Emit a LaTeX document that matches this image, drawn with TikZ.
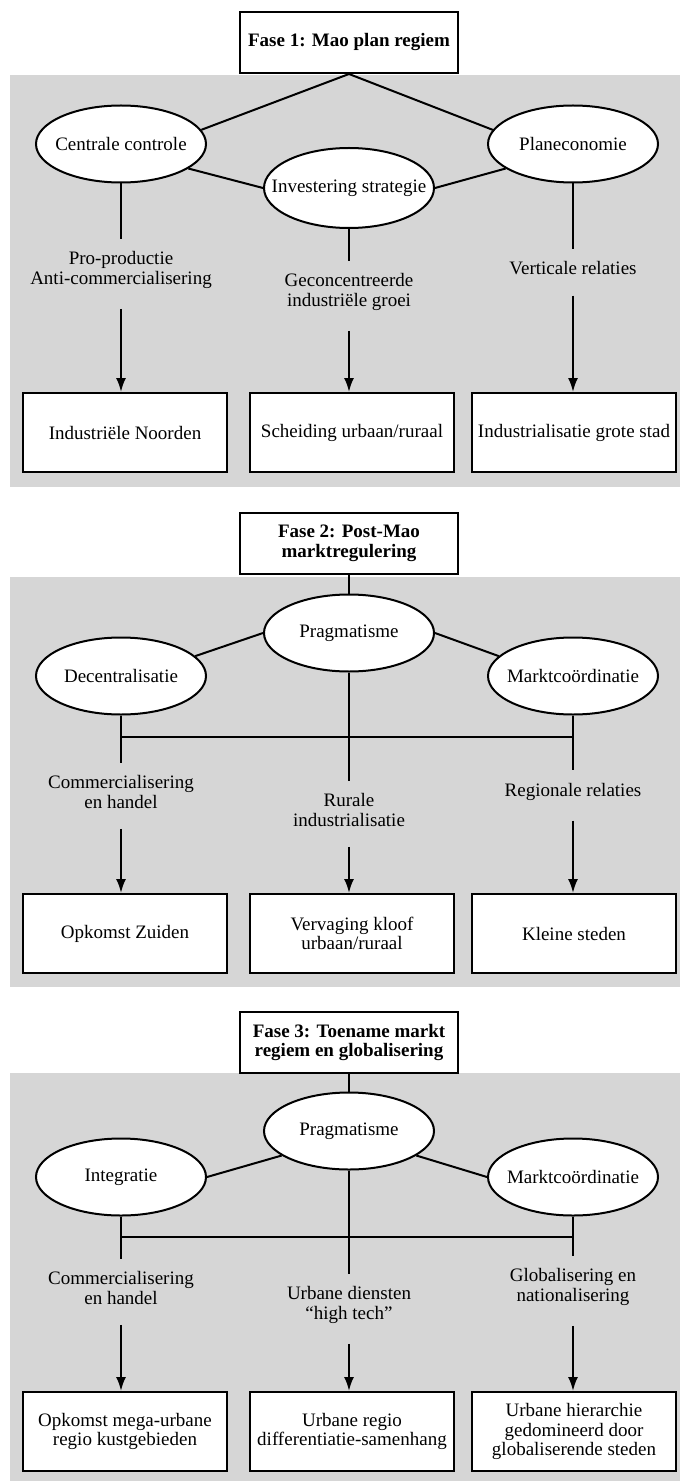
\documentclass[tikz,border=0pt]{standalone}
\usepackage{fontspec}
\setmainfont{Liberation Serif}
\usetikzlibrary{shapes.geometric,arrows.meta}

\definecolor{panelgray}{RGB}{214,214,214}

\begin{document}
\begin{tikzpicture}[
            x=0.5pt, y=-0.5pt,
            every node/.style={font=\fontsize{9.5}{9.8}\selectfont},
            phase/.style={rectangle, draw=black, fill=white, line width=1pt, minimum width=109pt, minimum height=30.5pt, align=center, inner sep=2pt, font=\fontsize{9.5}{9.8}\selectfont\bfseries},
            concept/.style={ellipse, draw=black, fill=white, line width=1pt, minimum width=85pt, minimum height=38.5pt, inner xsep=-12pt, inner ysep=0pt},
            outcome/.style={rectangle, draw=black, fill=white, line width=1pt, minimum width=102pt, minimum height=39.5pt, align=center, inner sep=2pt},
            note/.style={align=center, inner xsep=0pt, inner ysep=6pt},
            link/.style={line width=1pt},
            flow/.style={line width=1pt, -{Latex[length=7pt,width=5pt]}, shorten <=4pt},
            panel/.style={fill=panelgray, draw=none},
        ]
            \useasboundingbox (0,0) rectangle (680,1481);
            %% panels
            \fill[panel] (10,75) rectangle (680,487);
            \fill[panel] (10,577) rectangle (680,987);
            \fill[panel] (10,1073) rectangle (680,1481);

            %% fase 1
            \node[phase] at (349, 42.5) (fase1) {Fase 1: Mao plan regiem};
            \node[concept] at (121, 144) (centraal) {Centrale controle};
            \node[concept, minimum height=40pt] at (349, 188) (investering) {Investering strategie};
            \node[concept] at (573, 144) (planeco) {Planeconomie};
            \node[note] at (121, 270) (proprod) {Pro-productie\\Anti-commercialisering};
            \node[note] at (349, 292) (geconc) {Geconcentreerde\\industriële groei};
            \node[note] at (573, 268.5) (verticaal) {Verticale relaties};
            \node[outcome] at (125, 432.5) (noorden) {Industriële Noorden};
            \node[outcome] at (352, 432.5) (scheiding) {Scheiding urbaan/ruraal};
            \node[outcome] at (574, 432.5) (grotestad) {Industrialisatie grote stad};
            %% connection
            \draw[link] (fase1.south) -- (centraal.10);
            \draw[link] (fase1.south) -- (planeco.170);
            \draw[link] (centraal.-20) -- (investering.west);
            \draw[link] (investering.east) -- (planeco.-160);
            \draw[link] (centraal.south) -- (proprod.north);
            \draw[link] (investering.south) -- (geconc.north);
            \draw[link] (planeco.south) -- (verticaal.north);
            \draw[flow] (proprod.south) -- (proprod.south |- noorden.north);
            \draw[flow] (geconc.south) -- (geconc.south |- scheiding.north);
            \draw[flow] (verticaal.south) -- (verticaal.south |- grotestad.north);

            %% fase 2
            \node[phase] at (349, 543.5) (fase2) {Fase 2: Post-Mao\\marktregulering};
            \node[concept] at (349, 633) (pragma2) {Pragmatisme};
            \node[concept] at (121, 676) (decentraal) {Decentralisatie};
            \node[concept] at (573, 676) (marktco2) {Marktcoördinatie};
            \coordinate (balk2) at (349, 737);
            \node[note] at (121, 792) (handel2) {Commercialisering\\en handel};
            \node[note] at (349, 810) (ruraal) {Rurale\\industrialisatie};
            \node[note] at (573, 791.5) (regionaal) {Regionale relaties};
            \node[outcome] at (125, 933.5) (zuiden) {Opkomst Zuiden};
            \node[outcome] at (352, 933.5) (kloof) {Vervaging kloof\\urbaan/ruraal};
            \node[outcome] at (574, 933.5) (kleinesteden) {Kleine steden};
            %% connection
            \draw[link] (fase2.south) -- (pragma2.north);
            \draw[link] (pragma2.west) -- (decentraal.15);
            \draw[link] (pragma2.east) -- (marktco2.165);
            \draw[link] (decentraal.south) -- (handel2.north);
            \draw[link] (pragma2.south) -- (ruraal.north);
            \draw[link] (marktco2.south) -- (regionaal.north);
            \draw[link] (decentraal.south |- balk2) -- (marktco2.south |- balk2);
            \draw[flow] (handel2.south) -- (handel2.south |- zuiden.north);
            \draw[flow] (ruraal.south) -- (ruraal.south |- kloof.north);
            \draw[flow] (regionaal.south) -- (regionaal.south |- kleinesteden.north);

            %% fase 3
            \node[phase] at (349, 1042.5) (fase3) {Fase 3: Toename markt\\regiem en globalisering};
            \node[concept] at (349, 1131) (pragma3) {Pragmatisme};
            \node[concept] at (121, 1177) (integratie) {Integratie};
            \node[concept] at (573, 1177) (marktco3) {Marktcoördinatie};
            \coordinate (balk3) at (349, 1237);
            \node[note] at (121, 1288) (handel3) {Commercialisering\\en handel};
            \node[note] at (349, 1305) (diensten) {Urbane diensten\\“high tech”};
            \node[note] at (573, 1287) (globaal) {Globalisering en\\nationalisering};
            \node[outcome] at (125, 1431.5) (megaregio) {Opkomst mega-urbane\\regio kustgebieden};
            \node[outcome] at (352, 1431.5) (regio) {Urbane regio\\differentiatie-samenhang};
            \node[outcome] at (574, 1431.5) (hierarchie) {Urbane hierarchie\\gedomineerd door\\globaliserende steden};
            %% connection
            \draw[link] (fase3.south) -- (pragma3.north);
            \draw[link] (pragma3.200) -- (integratie.east);
            \draw[link] (pragma3.-20) -- (marktco3.west);
            \draw[link] (integratie.south) -- (handel3.north);
            \draw[link] (pragma3.south) -- (diensten.north);
            \draw[link] (marktco3.south) -- (globaal.north);
            \draw[link] (integratie.south |- balk3) -- (marktco3.south |- balk3);
            \draw[flow] (handel3.south) -- (handel3.south |- megaregio.north);
            \draw[flow] (diensten.south) -- (diensten.south |- regio.north);
            \draw[flow] (globaal.south) -- (globaal.south |- hierarchie.north);

        \end{tikzpicture}
\end{document}
